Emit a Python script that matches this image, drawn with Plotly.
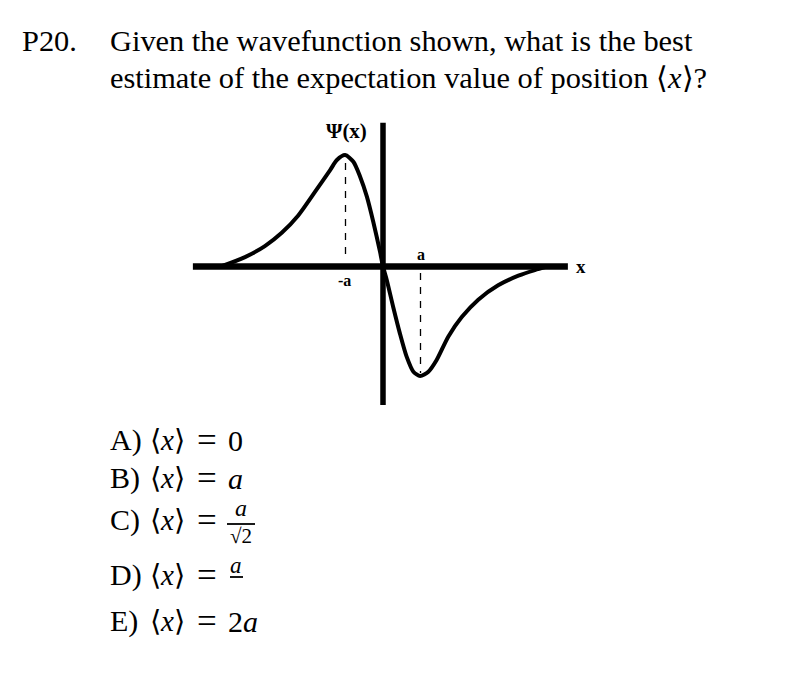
import plotly.graph_objects as go

W, H = 795, 689          # browser window
OFF = 8                  # default body margin of the page
FW, FH = W - OFF, H - OFF

# ---- data (x in units of a, psi normalised to peak height) ----
curve_x = [-4.32, -3.68, -3.15, -2.70, -2.26, -1.81, -1.41, -1.23, -1.01,
           -0.79, -0.61, -0.43, -0.26, -0.08, 0.0,
           0.10, 0.27, 0.45, 0.63, 0.81, 0.99, 1.21, 1.43, 1.74, 2.10,
           2.54, 3.07, 3.61, 4.05, 4.35]
curve_psi = [0.0, 0.085, 0.185, 0.305, 0.462, 0.677, 0.873, 0.964, 1.009,
             0.948, 0.813, 0.632, 0.405, 0.134, 0.0,
             -0.122, -0.364, -0.605, -0.816, -0.952, -0.991, -0.952, -0.846, -0.635, -0.458,
             -0.300, -0.170, -0.083, -0.032, -0.004]

x_axis_extent = [-5.07, 4.93]
y_axis_extent = [-1.253, 1.30]
marker_x = [-1.0, 1.0]           # positions of -a and a
marker_y_span = [[0.937, 0.059], [-0.059, -0.964]]
tick_labels = ["-a", "a"]

title_number = "P20."
title_lines = ["Given the wavefunction shown, what is the best",
               "estimate of the expectation value of position ⟨<i>x</i>⟩?"]
choice_letters = ["A)", "B)", "C)", "D)", "E)"]
choice_values = ["0", "<i>a</i>", None, None, "2<i>a</i>"]

# pixel mapping for the diagram axes (window pixels)
X0, SX = 383.0, 37.5
Y0, SY = 266.5, 110.5

fig = go.Figure()

# axes of the sketch
fig.add_trace(go.Scatter(x=x_axis_extent, y=[0, 0], mode="lines",
                         line=dict(color="black", width=6.5), hoverinfo="skip"))
fig.add_trace(go.Scatter(x=[0, 0], y=y_axis_extent, mode="lines",
                         line=dict(color="black", width=5.5), hoverinfo="skip"))
# dashed markers
for mx, span in zip(marker_x, marker_y_span):
    fig.add_trace(go.Scatter(x=[mx, mx], y=span, mode="lines",
                             line=dict(color="black", width=1.3, dash="7px,7px"),
                             hoverinfo="skip"))
# wavefunction
fig.add_trace(go.Scatter(x=curve_x, y=curve_psi, mode="lines",
                         line=dict(color="black", width=4, shape="spline", smoothing=0.7),
                         hoverinfo="skip"))

serif = "Liberation Serif"
ann = []
# diagram labels
ann.append(dict(x=-0.97, y=(Y0 - 130.5) / SY, xref="x", yref="y", text="<b>Ψ(x)</b>",
                showarrow=False, font=dict(family=serif, size=21, color="black")))
ann.append(dict(x=marker_x[0] - 0.02, y=(Y0 - 280) / SY, xref="x", yref="y",
                text="<b>" + tick_labels[0] + "</b>",
                showarrow=False, font=dict(family=serif, size=16, color="black")))
ann.append(dict(x=marker_x[1], y=(Y0 - 254) / SY, xref="x", yref="y",
                text="<b>" + tick_labels[1] + "</b>",
                showarrow=False, font=dict(family=serif, size=16, color="black")))
ann.append(dict(x=(581 - X0) / SX, y=0.0, xref="x", yref="y", text="<b>x</b>",
                showarrow=False, font=dict(family=serif, size=19, color="black")))


def px(xp, yp):
    return (xp - OFF) / FW, 1 - (yp - OFF) / FH


def text_at(xp, yp, txt, size=30, anchor="left"):
    xx, yy = px(xp, yp)
    ann.append(dict(x=xx, y=yy, xref="paper", yref="paper", text=txt, showarrow=False,
                    xanchor=anchor, yanchor="middle",
                    font=dict(family=serif, size=size, color="black")))


# question text
text_at(20, 41, title_number, size=30.4)
text_at(108, 41, title_lines[0], size=30.4)
text_at(108, 78, title_lines[1], size=30.4)

# answer choices
row_y = [440, 478, 520, 575, 621]
for letter, val, yy in zip(choice_letters, choice_values, row_y):
    text_at(108, yy, letter)
    text_at(148, yy, "⟨<i>x</i>⟩", size=29)
    text_at(207, yy, "=", size=35, anchor="center")
    if val is not None:
        text_at(226, yy, val)

# C) fraction a / sqrt(2)
text_at(241, 508, "<i>a</i>", size=24, anchor="center")
text_at(241, 536, "√2", size=21, anchor="center")
# D) fraction a / (missing)
text_at(236, 565, "<i>a</i>", size=23, anchor="center")

fx0, fy0 = px(227, 524)
fx1, _ = px(255, 524)
dx0, dy0 = px(230, 577)
dx1, _ = px(243, 577)
shapes = [
    dict(type="line", xref="paper", yref="paper", x0=fx0, x1=fx1, y0=fy0, y1=fy0,
         line=dict(color="black", width=1.8)),
    dict(type="line", xref="paper", yref="paper", x0=dx0, x1=dx1, y0=dy0, y1=dy0,
         line=dict(color="black", width=1.8)),
]

fig.update_layout(
    width=FW, height=FH, margin=dict(l=0, r=0, t=0, b=0),
    paper_bgcolor="white", plot_bgcolor="white", showlegend=False,
    xaxis=dict(range=[(OFF - X0) / SX, (W - X0) / SX], visible=False, domain=[0, 1]),
    yaxis=dict(range=[(Y0 - H) / SY, (Y0 - OFF) / SY], visible=False, domain=[0, 1]),
    annotations=ann, shapes=shapes,
)

fig.write_html("out.html")
